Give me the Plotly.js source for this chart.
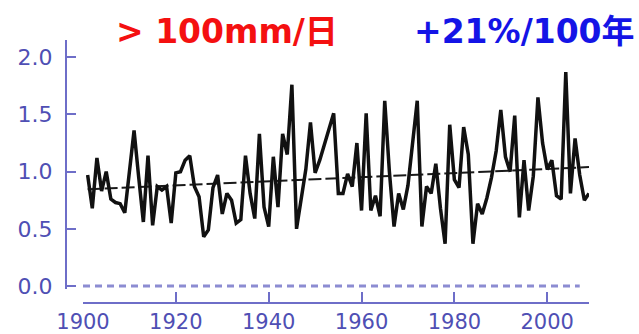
<!DOCTYPE html>
<html>
<head>
<meta charset="utf-8">
<script src="https://cdn.plot.ly/plotly-3.0.1.min.js"></script>
<style>
  html, body { margin: 0; padding: 0; background: #ffffff; }
  #chart { width: 639px; height: 334px; }
</style>
</head>
<body>
<div id="chart"></div>
<script>
// Annual count ratio of days with > 100 mm daily rainfall, 1901-2009
const years = [];
for (let y = 1901; y <= 2009; y++) years.push(y);

const values = [
  0.97, 0.68, 1.12, 0.83, 1.00, 0.76, 0.73, 0.72, 0.64, 0.98,   // 1901-1910
  1.36, 0.95, 0.56, 1.14, 0.53, 0.87, 0.84, 0.87, 0.55, 0.99,   // 1911-1920
  1.00, 1.10, 1.14, 0.87, 0.78, 0.43, 0.49, 0.86, 0.97, 0.63,   // 1921-1930
  0.81, 0.75, 0.55, 0.58, 1.14, 0.81, 0.59, 1.33, 0.69, 0.52,   // 1931-1940
  1.13, 0.69, 1.33, 1.15, 1.76, 0.50, 0.75, 1.02, 1.43, 0.99,   // 1941-1950
  1.10, 1.24, 1.37, 1.51, 0.81, 0.81, 0.98, 0.87, 1.25, 0.66,   // 1951-1960
  1.51, 0.66, 0.79, 0.61, 1.62, 1.00, 0.52, 0.81, 0.67, 0.88,   // 1961-1970
  1.25, 1.62, 0.52, 0.87, 0.81, 1.07, 0.68, 0.37, 1.41, 0.93,   // 1971-1980
  0.86, 1.39, 1.15, 0.37, 0.72, 0.63, 0.77, 0.95, 1.18, 1.54,   // 1981-1990
  1.13, 1.00, 1.49, 0.60, 1.10, 0.66, 0.96, 1.65, 1.25, 1.02,   // 1991-2000
  1.10, 0.79, 0.76, 1.87, 0.81, 1.29, 0.97, 0.75, 0.81          // 2001-2009
];

// Linear trend end points (+21% per 100 years)
const trendYears = [1901, 2009];
const trendValues = [0.845, 1.04];

// Zero reference line
const zeroYears = [1900, 2007];
const zeroValues = [0, 0];

// Axis ticks
const xTickVals = [1900, 1920, 1940, 1960, 1980, 2000];
const yTickVals = [0, 0.5, 1.0, 1.5, 2.0];
const yTickText = ['0.0', '0.5', '1.0', '1.5', '2.0'];

const titleLeft = '> 100mm/日';
const titleRight = '+21%/100年';

const axisColor = '#6e6ec8';
const labelColor = '#4f4fb4';

const traces = [
  {
    x: zeroYears, y: zeroValues, mode: 'lines', hoverinfo: 'skip',
    line: { color: '#8c8cd2', width: 3, dash: '7px,5px' }
  },
  {
    x: trendYears, y: trendValues, mode: 'lines', hoverinfo: 'skip',
    line: { color: '#1a1a1a', width: 2, dash: '13px,4px' }
  },
  {
    x: years, y: values, mode: 'lines',
    line: { color: '#111111', width: 3.5, shape: 'linear' }
  }
];

// Pixel geometry of the plot frame
const L = 66, R = 50, T = 40, B = 31;
const plotW = 639 - L - R, plotH = 334 - T - B;
const pxPerUnit = 114.35;          // vertical scale of the value axis
const zeroPx = 286;                // pixel row of value 0
const yMin = -0.03;                // small margin so the zero line is not clipped
const yMax = (zeroPx - T) / pxPerUnit;
const yBottomPx = zeroPx - yMin * pxPerUnit;

const layout = {
  width: 639, height: 334,
  margin: { l: L, r: R, t: T, b: B, pad: 0 },
  paper_bgcolor: '#ffffff', plot_bgcolor: '#ffffff',
  showlegend: false,
  font: { family: 'DejaVu Sans, sans-serif', color: labelColor },
  xaxis: {
    domain: [(83 - L) / plotW, 1],
    range: [1900, 2009],
    anchor: 'free', position: 0,
    showgrid: false, zeroline: false,
    showline: true, linecolor: axisColor, linewidth: 2,
    ticks: 'inside', ticklen: 10, tickwidth: 2, tickcolor: axisColor,
    tickvals: xTickVals,
    tickfont: { family: 'DejaVu Sans, sans-serif', size: 21, color: labelColor }
  },
  yaxis: {
    domain: [(334 - B - yBottomPx) / plotH, 1],
    range: [yMin, yMax],
    anchor: 'free', position: 0,
    showgrid: false, zeroline: false,
    showline: true, linecolor: axisColor, linewidth: 2,
    ticks: 'inside', ticklen: 9, tickwidth: 2, tickcolor: axisColor,
    tickvals: yTickVals, ticktext: yTickText,
    ticklabelstandoff: 8,
    tickfont: { family: 'DejaVu Sans, sans-serif', size: 22, color: labelColor }
  },
  annotations: [
    {
      text: titleLeft, showarrow: false,
      xref: 'paper', yref: 'paper',
      x: (226.5 - L) / plotW, y: (334 - B - 31) / plotH,
      xanchor: 'center', yanchor: 'middle',
      font: { family: 'DejaVu Sans, Noto Sans CJK JP, sans-serif', size: 33, color: '#f41010', weight: 'bold' }
    },
    {
      text: titleRight, showarrow: false,
      xref: 'paper', yref: 'paper',
      x: (524 - L) / plotW, y: (334 - B - 31) / plotH,
      xanchor: 'center', yanchor: 'middle',
      font: { family: 'DejaVu Sans, Noto Sans CJK JP, sans-serif', size: 33, color: '#1414e6', weight: 'bold' }
    }
  ]
};

Plotly.newPlot('chart', traces, layout, { staticPlot: true, displayModeBar: false });
</script>
</body>
</html>
